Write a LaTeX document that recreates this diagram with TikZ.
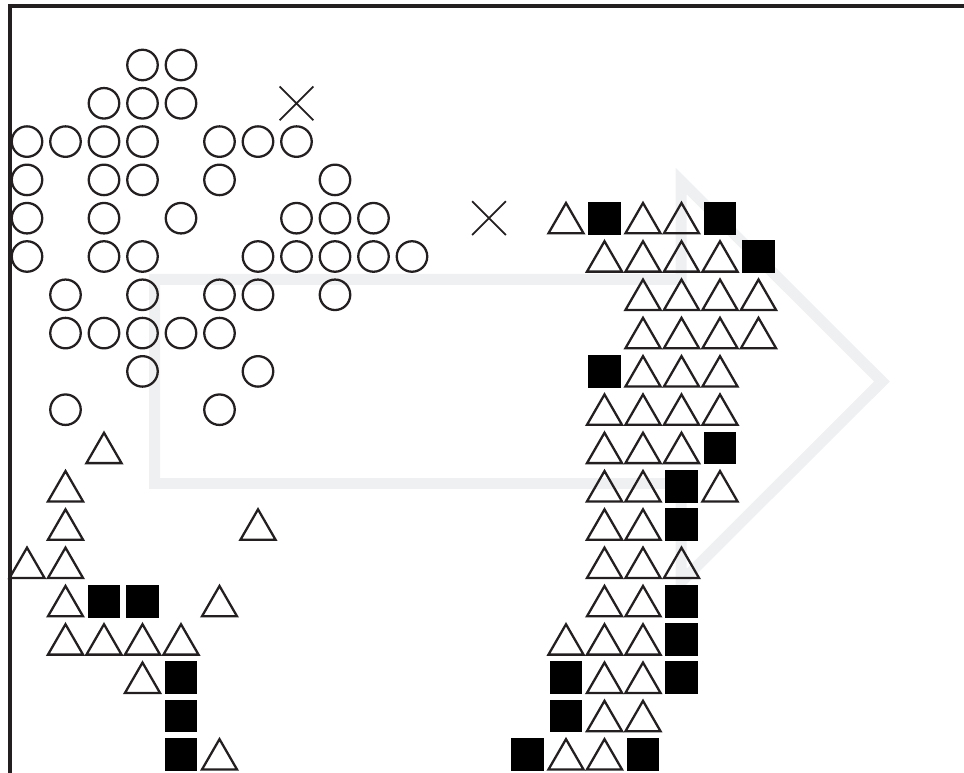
\documentclass[tikz,border=0pt]{standalone}
\usetikzlibrary{shapes.geometric,shapes.misc}
\definecolor{ink}{HTML}{231F20}
\definecolor{band}{HTML}{EFF0F2}
\tikzset{
  circ/.style={draw=ink, circle, line width=1.3pt, minimum size=0.61cm, inner sep=0pt},
  tri/.style={draw=ink, regular polygon, regular polygon sides=3, line width=1.3pt, minimum size=0.81cm, inner sep=0pt, yshift=-0.1cm},
  sqr/.style={fill=black, minimum size=0.655cm, inner sep=0pt},
  crs/.style={draw=ink, cross out, line width=1pt, minimum size=0.64cm, inner sep=0pt},
  frame/.style={draw=ink, line width=1.8pt},
  arrowband/.style={draw=band, line width=0.22cm, line join=miter}
}
\begin{document}
\begin{tikzpicture}[x=0.02cm, y=-0.02cm]
\useasboundingbox (0,0) rectangle (964,773);
% faint arrow behind the symbols
\draw[arrowband] (154.5,279.5) -- (681,279.5) -- (681,181) -- (882,381.5) -- (681,582) -- (681,483.5) -- (154.5,483.5) -- cycle;
% frame
\draw[frame] (964,6) -- (10,6) -- (10,773);
% circles
\foreach \r/\cols in {1/{3,4}, 2/{2,3,4}, 3/{0,1,2,3,5,6,7}, 4/{0,2,3,5,8}, 5/{0,2,4,7,8,9}, 6/{0,2,3,6,7,8,9,10}, 7/{1,3,5,6,8}, 8/{1,2,3,4,5}, 9/{3,6}, 10/{1,5}}
  \foreach \c in \cols
    \node[circ] (c-\r-\c) at ({27+38.5*\c},{65+38.3*(\r-1)}) {};
% triangles
\foreach \r/\cols in {5/{14,16,17}, 6/{15,16,17,18}, 7/{16,17,18,19}, 8/{16,17,18,19}, 9/{16,17,18}, 10/{15,16,17,18}, 11/{2,15,16,17}, 12/{1,15,16,18}, 13/{1,6,15,16}, 14/{0,1,15,16,17}, 15/{1,5,15,16}, 16/{1,2,3,4,14,15,16}, 17/{3,15,16}, 18/{15,16}, 19/{5,14,15}}
  \foreach \c in \cols
    \node[tri] (t-\r-\c) at ({27+38.5*\c},{65+38.3*(\r-1)}) {};
% squares
\foreach \r/\cols in {5/{15,18}, 6/{19}, 9/{15}, 11/{18}, 12/{17}, 13/{17}, 15/{2,3,17}, 16/{17}, 17/{4,14,17}, 18/{4,14}, 19/{4,13,16}}
  \foreach \c in \cols
    \node[sqr] (s-\r-\c) at ({27+38.5*\c},{65+38.3*(\r-1)}) {};
% crosses
\node[crs] (x-2-7) at ({27+38.5*7},{65+38.3*1}) {};
\node[crs] (x-5-12) at ({27+38.5*12},{65+38.3*4}) {};
\end{tikzpicture}
\end{document}
